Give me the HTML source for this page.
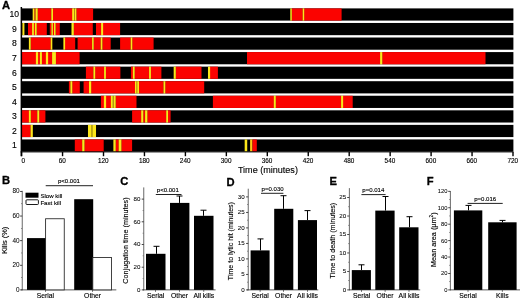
<!DOCTYPE html>
<html><head><meta charset="utf-8"><title>Figure</title>
<style>html,body{margin:0;padding:0;background:#fff;overflow:hidden}svg{display:block}text{stroke:#000;stroke-width:0.13px}text[font-weight]{stroke-width:0.3px}</style></head>
<body>
<svg width="520" height="300" viewBox="0 0 520 300" font-family="'Liberation Sans', Arial, sans-serif" fill="#000">
<rect width="520" height="300" fill="#fff"/>
<rect x="22" y="8.40" width="491.4" height="12.2" fill="#000"/>
<rect x="34.30" y="8.40" width="1.30" height="12.2" fill="#fb0300"/>
<rect x="37.60" y="8.40" width="13.80" height="12.2" fill="#fb0300"/>
<rect x="52.90" y="8.40" width="19.90" height="12.2" fill="#fb0300"/>
<rect x="74.00" y="8.40" width="1.00" height="12.2" fill="#a07010"/>
<rect x="76.30" y="8.40" width="16.80" height="12.2" fill="#fb0300"/>
<rect x="291.70" y="8.40" width="11.10" height="12.2" fill="#fb0300"/>
<rect x="304.10" y="8.40" width="37.50" height="12.2" fill="#fb0300"/>
<rect x="32.68" y="8.40" width="1.74" height="12.2" fill="#fce61a"/>
<rect x="35.48" y="8.40" width="2.24" height="12.2" fill="#fce61a"/>
<rect x="51.28" y="8.40" width="1.74" height="12.2" fill="#fce61a"/>
<rect x="72.18" y="8.40" width="1.94" height="12.2" fill="#fce61a"/>
<rect x="74.88" y="8.40" width="1.54" height="12.2" fill="#fce61a"/>
<rect x="290.28" y="8.40" width="1.54" height="12.2" fill="#fce61a"/>
<rect x="302.68" y="8.40" width="1.54" height="12.2" fill="#fce61a"/>
<text x="14.3" y="17.30" font-size="8.6" text-anchor="middle">10</text>
<rect x="22" y="22.96" width="491.4" height="12.2" fill="#000"/>
<rect x="28.00" y="22.96" width="4.20" height="12.2" fill="#fb0300"/>
<rect x="33.80" y="22.96" width="1.20" height="12.2" fill="#fb0300"/>
<rect x="36.60" y="22.96" width="10.20" height="12.2" fill="#fb0300"/>
<rect x="49.80" y="22.96" width="1.70" height="12.2" fill="#fb0300"/>
<rect x="52.80" y="22.96" width="1.30" height="12.2" fill="#fb0300"/>
<rect x="55.50" y="22.96" width="4.30" height="12.2" fill="#fb0300"/>
<rect x="73.70" y="22.96" width="19.10" height="12.2" fill="#fb0300"/>
<rect x="96.00" y="22.96" width="5.20" height="12.2" fill="#fb0300"/>
<rect x="103.00" y="22.96" width="17.10" height="12.2" fill="#fb0300"/>
<rect x="22.38" y="22.96" width="2.04" height="12.2" fill="#fce61a"/>
<rect x="32.08" y="22.96" width="1.84" height="12.2" fill="#fce61a"/>
<rect x="34.88" y="22.96" width="1.84" height="12.2" fill="#fce61a"/>
<rect x="51.38" y="22.96" width="1.54" height="12.2" fill="#fce61a"/>
<rect x="53.98" y="22.96" width="1.64" height="12.2" fill="#fce61a"/>
<rect x="71.48" y="22.96" width="2.34" height="12.2" fill="#fce61a"/>
<rect x="101.08" y="22.96" width="2.04" height="12.2" fill="#fce61a"/>
<text x="14.3" y="31.86" font-size="8.6" text-anchor="middle">9</text>
<rect x="22" y="37.52" width="491.4" height="12.2" fill="#000"/>
<rect x="30.60" y="37.52" width="20.20" height="12.2" fill="#fb0300"/>
<rect x="65.00" y="37.52" width="10.20" height="12.2" fill="#fb0300"/>
<rect x="77.60" y="37.52" width="14.60" height="12.2" fill="#fb0300"/>
<rect x="93.60" y="37.52" width="7.20" height="12.2" fill="#fb0300"/>
<rect x="102.30" y="37.52" width="8.40" height="12.2" fill="#fb0300"/>
<rect x="120.10" y="37.52" width="10.70" height="12.2" fill="#fb0300"/>
<rect x="132.20" y="37.52" width="21.40" height="12.2" fill="#fb0300"/>
<rect x="28.88" y="37.52" width="1.84" height="12.2" fill="#fce61a"/>
<rect x="50.68" y="37.52" width="1.64" height="12.2" fill="#fce61a"/>
<rect x="63.38" y="37.52" width="1.74" height="12.2" fill="#fce61a"/>
<rect x="92.08" y="37.52" width="1.64" height="12.2" fill="#fce61a"/>
<rect x="100.68" y="37.52" width="1.74" height="12.2" fill="#fce61a"/>
<rect x="130.68" y="37.52" width="1.64" height="12.2" fill="#fce61a"/>
<text x="14.3" y="46.42" font-size="8.6" text-anchor="middle">8</text>
<rect x="22" y="52.08" width="491.4" height="12.2" fill="#000"/>
<rect x="22.00" y="52.08" width="14.00" height="12.2" fill="#fb0300"/>
<rect x="38.00" y="52.08" width="2.00" height="12.2" fill="#fb0300"/>
<rect x="41.80" y="52.08" width="4.20" height="12.2" fill="#fb0300"/>
<rect x="48.00" y="52.08" width="4.20" height="12.2" fill="#fb0300"/>
<rect x="55.80" y="52.08" width="23.80" height="12.2" fill="#fb0300"/>
<rect x="247.00" y="52.08" width="133.20" height="12.2" fill="#fb0300"/>
<rect x="382.20" y="52.08" width="103.30" height="12.2" fill="#fb0300"/>
<rect x="35.88" y="52.08" width="2.24" height="12.2" fill="#fce61a"/>
<rect x="39.88" y="52.08" width="2.04" height="12.2" fill="#fce61a"/>
<rect x="45.88" y="52.08" width="2.24" height="12.2" fill="#fce61a"/>
<rect x="52.08" y="52.08" width="3.84" height="12.2" fill="#fce61a"/>
<rect x="380.08" y="52.08" width="2.24" height="12.2" fill="#fce61a"/>
<text x="14.3" y="60.98" font-size="8.6" text-anchor="middle">7</text>
<rect x="22" y="66.64" width="491.4" height="12.2" fill="#000"/>
<rect x="85.90" y="66.64" width="7.60" height="12.2" fill="#fb0300"/>
<rect x="95.10" y="66.64" width="9.10" height="12.2" fill="#fb0300"/>
<rect x="105.80" y="66.64" width="14.60" height="12.2" fill="#fb0300"/>
<rect x="130.90" y="66.64" width="2.10" height="12.2" fill="#fb0300"/>
<rect x="134.60" y="66.64" width="14.60" height="12.2" fill="#fb0300"/>
<rect x="150.80" y="66.64" width="10.60" height="12.2" fill="#fb0300"/>
<rect x="175.70" y="66.64" width="25.80" height="12.2" fill="#fb0300"/>
<rect x="210.00" y="66.64" width="7.90" height="12.2" fill="#fb0300"/>
<rect x="93.38" y="66.64" width="1.84" height="12.2" fill="#fce61a"/>
<rect x="104.08" y="66.64" width="1.84" height="12.2" fill="#fce61a"/>
<rect x="132.88" y="66.64" width="1.84" height="12.2" fill="#fce61a"/>
<rect x="149.08" y="66.64" width="1.84" height="12.2" fill="#fce61a"/>
<rect x="173.68" y="66.64" width="2.14" height="12.2" fill="#fce61a"/>
<rect x="207.98" y="66.64" width="2.14" height="12.2" fill="#fce61a"/>
<text x="14.3" y="75.54" font-size="8.6" text-anchor="middle">6</text>
<rect x="22" y="81.20" width="491.4" height="12.2" fill="#000"/>
<rect x="68.90" y="81.20" width="1.60" height="12.2" fill="#fb0300"/>
<rect x="72.20" y="81.20" width="7.60" height="12.2" fill="#fb0300"/>
<rect x="83.60" y="81.20" width="5.50" height="12.2" fill="#fb0300"/>
<rect x="91.10" y="81.20" width="44.00" height="12.2" fill="#fb0300"/>
<rect x="136.50" y="81.20" width="0.80" height="12.2" fill="#ff6a00"/>
<rect x="138.90" y="81.20" width="24.70" height="12.2" fill="#fb0300"/>
<rect x="165.20" y="81.20" width="39.00" height="12.2" fill="#fb0300"/>
<rect x="70.38" y="81.20" width="1.94" height="12.2" fill="#fce61a"/>
<rect x="88.98" y="81.20" width="2.24" height="12.2" fill="#fce61a"/>
<rect x="134.98" y="81.20" width="1.64" height="12.2" fill="#fce61a"/>
<rect x="137.18" y="81.20" width="1.84" height="12.2" fill="#fce61a"/>
<rect x="163.48" y="81.20" width="1.84" height="12.2" fill="#fce61a"/>
<text x="14.3" y="90.10" font-size="8.6" text-anchor="middle">5</text>
<rect x="22" y="95.76" width="491.4" height="12.2" fill="#000"/>
<rect x="100.90" y="95.76" width="3.10" height="12.2" fill="#fb0300"/>
<rect x="106.00" y="95.76" width="5.00" height="12.2" fill="#fb0300"/>
<rect x="112.70" y="95.76" width="0.90" height="12.2" fill="#a07010"/>
<rect x="115.60" y="95.76" width="20.90" height="12.2" fill="#fb0300"/>
<rect x="212.90" y="95.76" width="61.00" height="12.2" fill="#fb0300"/>
<rect x="275.70" y="95.76" width="65.50" height="12.2" fill="#fb0300"/>
<rect x="343.00" y="95.76" width="9.70" height="12.2" fill="#fb0300"/>
<rect x="103.88" y="95.76" width="2.24" height="12.2" fill="#fce61a"/>
<rect x="110.88" y="95.76" width="1.94" height="12.2" fill="#fce61a"/>
<rect x="113.48" y="95.76" width="2.24" height="12.2" fill="#fce61a"/>
<rect x="273.78" y="95.76" width="2.04" height="12.2" fill="#fce61a"/>
<rect x="341.08" y="95.76" width="2.04" height="12.2" fill="#fce61a"/>
<text x="14.3" y="104.66" font-size="8.6" text-anchor="middle">4</text>
<rect x="22" y="110.32" width="491.4" height="12.2" fill="#000"/>
<rect x="22.00" y="110.32" width="7.00" height="12.2" fill="#fb0300"/>
<rect x="30.70" y="110.32" width="6.70" height="12.2" fill="#fb0300"/>
<rect x="39.10" y="110.32" width="6.30" height="12.2" fill="#fb0300"/>
<rect x="132.10" y="110.32" width="9.40" height="12.2" fill="#fb0300"/>
<rect x="143.20" y="110.32" width="2.00" height="12.2" fill="#fb0300"/>
<rect x="147.30" y="110.32" width="19.00" height="12.2" fill="#fb0300"/>
<rect x="167.90" y="110.32" width="2.70" height="12.2" fill="#fb0300"/>
<rect x="28.88" y="110.32" width="1.94" height="12.2" fill="#fce61a"/>
<rect x="37.28" y="110.32" width="1.94" height="12.2" fill="#fce61a"/>
<rect x="141.18" y="110.32" width="2.14" height="12.2" fill="#fce61a"/>
<rect x="145.08" y="110.32" width="2.34" height="12.2" fill="#fce61a"/>
<rect x="166.18" y="110.32" width="1.84" height="12.2" fill="#fce61a"/>
<text x="14.3" y="119.22" font-size="8.6" text-anchor="middle">3</text>
<rect x="22" y="124.88" width="491.4" height="12.2" fill="#000"/>
<rect x="22.00" y="124.88" width="8.70" height="12.2" fill="#fb0300"/>
<rect x="91.40" y="124.88" width="1.10" height="12.2" fill="#c09a10"/>
<rect x="30.58" y="124.88" width="2.24" height="12.2" fill="#fce61a"/>
<rect x="87.98" y="124.88" width="3.54" height="12.2" fill="#fce61a"/>
<rect x="92.38" y="124.88" width="3.64" height="12.2" fill="#fce61a"/>
<text x="14.3" y="133.78" font-size="8.6" text-anchor="middle">2</text>
<rect x="22" y="139.44" width="491.4" height="12.2" fill="#000"/>
<rect x="74.80" y="139.44" width="7.50" height="12.2" fill="#fb0300"/>
<rect x="84.40" y="139.44" width="19.30" height="12.2" fill="#fb0300"/>
<rect x="115.60" y="139.44" width="3.20" height="12.2" fill="#fb0300"/>
<rect x="121.30" y="139.44" width="10.80" height="12.2" fill="#fb0300"/>
<rect x="250.10" y="139.44" width="2.40" height="12.2" fill="#ffc814"/>
<rect x="252.50" y="139.44" width="4.30" height="12.2" fill="#fb0300"/>
<rect x="82.18" y="139.44" width="2.34" height="12.2" fill="#fce61a"/>
<rect x="113.38" y="139.44" width="2.34" height="12.2" fill="#fce61a"/>
<rect x="118.68" y="139.44" width="2.74" height="12.2" fill="#fce61a"/>
<rect x="244.68" y="139.44" width="2.54" height="12.2" fill="#fce61a"/>
<text x="14.3" y="148.34" font-size="8.6" text-anchor="middle">1</text>
<rect x="20.6" y="7" width="1.5" height="149.2"/>
<rect x="20.6" y="151.4" width="492.79999999999995" height="1"/>
<rect x="20.90" y="152" width="1.4" height="4.2"/>
<text x="23.20" y="163.4" font-size="6.4" text-anchor="middle">0</text>
<rect x="61.85" y="152" width="1.4" height="4.2"/>
<text x="62.35" y="163.4" font-size="6.4" text-anchor="middle">60</text>
<rect x="102.80" y="152" width="1.4" height="4.2"/>
<text x="103.30" y="163.4" font-size="6.4" text-anchor="middle">120</text>
<rect x="143.75" y="152" width="1.4" height="4.2"/>
<text x="144.25" y="163.4" font-size="6.4" text-anchor="middle">180</text>
<rect x="184.70" y="152" width="1.4" height="4.2"/>
<text x="185.20" y="163.4" font-size="6.4" text-anchor="middle">240</text>
<rect x="225.65" y="152" width="1.4" height="4.2"/>
<text x="226.15" y="163.4" font-size="6.4" text-anchor="middle">300</text>
<rect x="266.60" y="152" width="1.4" height="4.2"/>
<text x="267.10" y="163.4" font-size="6.4" text-anchor="middle">360</text>
<rect x="307.55" y="152" width="1.4" height="4.2"/>
<text x="308.05" y="163.4" font-size="6.4" text-anchor="middle">420</text>
<rect x="348.50" y="152" width="1.4" height="4.2"/>
<text x="349.00" y="163.4" font-size="6.4" text-anchor="middle">480</text>
<rect x="389.45" y="152" width="1.4" height="4.2"/>
<text x="389.95" y="163.4" font-size="6.4" text-anchor="middle">540</text>
<rect x="430.40" y="152" width="1.4" height="4.2"/>
<text x="430.90" y="163.4" font-size="6.4" text-anchor="middle">600</text>
<rect x="471.35" y="152" width="1.4" height="4.2"/>
<text x="471.85" y="163.4" font-size="6.4" text-anchor="middle">660</text>
<rect x="512.30" y="152" width="1.4" height="4.2"/>
<text x="512.80" y="163.4" font-size="6.4" text-anchor="middle">720</text>
<text x="267.9" y="173.25" font-size="9.05" text-anchor="middle">Time (minutes)</text>
<text x="2.1" y="8.6" font-size="11.2" font-weight="bold" stroke-width="0.3">A</text>
<text x="2.0" y="184.2" font-size="11.2" font-weight="bold" stroke-width="0.3">B</text>
<text x="120.2" y="185.1" font-size="11.2" font-weight="bold" stroke-width="0.3">C</text>
<text x="226.4" y="186.3" font-size="11.2" font-weight="bold" stroke-width="0.3">D</text>
<text x="329.5" y="185.3" font-size="11.2" font-weight="bold" stroke-width="0.3">E</text>
<text x="426.8" y="185.2" font-size="11.2" font-weight="bold" stroke-width="0.3">F</text>
<rect x="21.80" y="190.80" width="0.8" height="99.50" fill="#444"/>
<rect x="20.10" y="289.45" width="2.1" height="0.9" fill="#333"/>
<rect x="21.00" y="277.24" width="1.2" height="0.7" fill="#666"/>
<text x="19.50" y="291.80" font-size="6.4" text-anchor="end" style="stroke-width:0.05px">0</text>
<rect x="20.10" y="264.83" width="2.1" height="0.9" fill="#333"/>
<rect x="21.00" y="252.62" width="1.2" height="0.7" fill="#666"/>
<text x="19.50" y="267.18" font-size="6.4" text-anchor="end" style="stroke-width:0.05px">20</text>
<rect x="20.10" y="240.21" width="2.1" height="0.9" fill="#333"/>
<rect x="21.00" y="228.00" width="1.2" height="0.7" fill="#666"/>
<text x="19.50" y="242.56" font-size="6.4" text-anchor="end" style="stroke-width:0.05px">40</text>
<rect x="20.10" y="215.59" width="2.1" height="0.9" fill="#333"/>
<rect x="21.00" y="203.38" width="1.2" height="0.7" fill="#666"/>
<text x="19.50" y="217.94" font-size="6.4" text-anchor="end" style="stroke-width:0.05px">60</text>
<rect x="20.10" y="190.97" width="2.1" height="0.9" fill="#333"/>
<text x="19.50" y="193.32" font-size="6.4" text-anchor="end" style="stroke-width:0.05px">80</text>
<text transform="translate(6.7,240.3) rotate(-90)" font-size="7.4" text-anchor="middle">Kills (%)</text>
<rect x="21.20" y="289.50" width="95.10" height="0.8" fill="#333"/>
<rect x="27.00" y="238.10" width="19.00" height="51.80"/>
<rect x="45.60" y="218.75" width="18.65" height="71.15" fill="#fff" stroke="#222" stroke-width="0.85"/>
<rect x="74.20" y="199.20" width="19.00" height="90.70"/>
<rect x="92.80" y="257.45" width="18.75" height="32.45" fill="#fff" stroke="#222" stroke-width="0.85"/>
<rect x="45.00" y="289.90" width="0.8" height="1.9" fill="#444"/>
<text x="45.40" y="298.1" font-size="6.8" text-anchor="middle">Serial</text>
<rect x="92.20" y="289.90" width="0.8" height="1.9" fill="#444"/>
<text x="92.60" y="298.1" font-size="6.8" text-anchor="middle">Other</text>
<text x="68.90" y="183.30" font-size="6.05" text-anchor="middle">p&lt;0.001</text>
<rect x="45.70" y="185.20" width="47.30" height="1" fill="#222"/>
<rect x="25.5" y="192.7" width="13" height="5"/>
<rect x="26.0" y="199.8" width="12.4" height="4.7" rx="0.8" fill="#fff" stroke="#000" stroke-width="0.9"/>
<text x="40.4" y="197.8" font-size="6.1">Slow kill</text>
<text x="40.4" y="204.7" font-size="6.1">Fast kill</text>
<rect x="143.40" y="187.40" width="0.8" height="102.90" fill="#444"/>
<rect x="141.70" y="289.45" width="2.1" height="0.9" fill="#333"/>
<rect x="142.60" y="278.20" width="1.2" height="0.7" fill="#666"/>
<text x="140.50" y="291.80" font-size="6.2" text-anchor="end" style="stroke-width:0.05px">0</text>
<rect x="141.70" y="266.75" width="2.1" height="0.9" fill="#333"/>
<rect x="142.60" y="255.50" width="1.2" height="0.7" fill="#666"/>
<text x="140.50" y="269.10" font-size="6.2" text-anchor="end" style="stroke-width:0.05px">20</text>
<rect x="141.70" y="244.05" width="2.1" height="0.9" fill="#333"/>
<rect x="142.60" y="232.80" width="1.2" height="0.7" fill="#666"/>
<text x="140.50" y="246.40" font-size="6.2" text-anchor="end" style="stroke-width:0.05px">40</text>
<rect x="141.70" y="221.35" width="2.1" height="0.9" fill="#333"/>
<rect x="142.60" y="210.10" width="1.2" height="0.7" fill="#666"/>
<text x="140.50" y="223.70" font-size="6.2" text-anchor="end" style="stroke-width:0.05px">60</text>
<rect x="141.70" y="198.65" width="2.1" height="0.9" fill="#333"/>
<text x="140.50" y="201.00" font-size="6.2" text-anchor="end" style="stroke-width:0.05px">80</text>
<text transform="translate(128.3,240.5) rotate(-90)" font-size="7.23" text-anchor="middle">Conjugation time (minutes)</text>
<rect x="142.90" y="289.50" width="72.70" height="0.8" fill="#333"/>
<rect x="156.00" y="246.30" width="1" height="7.50"/>
<rect x="153.50" y="245.80" width="6" height="1"/>
<rect x="146.00" y="253.80" width="19.50" height="36.10"/>
<rect x="179.00" y="196.00" width="1" height="6.90"/>
<rect x="176.50" y="195.50" width="6" height="1"/>
<rect x="170.00" y="202.90" width="19.40" height="87.00"/>
<rect x="203.00" y="210.20" width="1" height="5.60"/>
<rect x="200.50" y="209.70" width="6" height="1"/>
<rect x="194.00" y="215.80" width="19.50" height="74.10"/>
<rect x="155.20" y="289.90" width="0.8" height="1.9" fill="#444"/>
<text x="155.60" y="298.1" font-size="6.8" text-anchor="middle">Serial</text>
<rect x="179.10" y="289.90" width="0.8" height="1.9" fill="#444"/>
<text x="179.50" y="298.1" font-size="6.8" text-anchor="middle">Other</text>
<rect x="203.40" y="289.90" width="0.8" height="1.9" fill="#444"/>
<text x="203.80" y="298.1" font-size="6.8" text-anchor="middle">All kills</text>
<text x="167.80" y="192.30" font-size="6.05" text-anchor="middle">p&lt;0.001</text>
<rect x="155.80" y="194.00" width="25.70" height="1" fill="#222"/>
<rect x="247.80" y="188.70" width="0.8" height="101.60" fill="#444"/>
<rect x="246.10" y="289.45" width="2.1" height="0.9" fill="#333"/>
<rect x="247.00" y="281.80" width="1.2" height="0.7" fill="#666"/>
<text x="244.70" y="291.80" font-size="6.2" text-anchor="end" style="stroke-width:0.05px">0</text>
<rect x="246.10" y="273.95" width="2.1" height="0.9" fill="#333"/>
<rect x="247.00" y="266.30" width="1.2" height="0.7" fill="#666"/>
<text x="244.70" y="276.30" font-size="6.2" text-anchor="end" style="stroke-width:0.05px">5</text>
<rect x="246.10" y="258.45" width="2.1" height="0.9" fill="#333"/>
<rect x="247.00" y="250.80" width="1.2" height="0.7" fill="#666"/>
<text x="244.70" y="260.80" font-size="6.2" text-anchor="end" style="stroke-width:0.05px">10</text>
<rect x="246.10" y="242.95" width="2.1" height="0.9" fill="#333"/>
<rect x="247.00" y="235.30" width="1.2" height="0.7" fill="#666"/>
<text x="244.70" y="245.30" font-size="6.2" text-anchor="end" style="stroke-width:0.05px">15</text>
<rect x="246.10" y="227.45" width="2.1" height="0.9" fill="#333"/>
<rect x="247.00" y="219.80" width="1.2" height="0.7" fill="#666"/>
<text x="244.70" y="229.80" font-size="6.2" text-anchor="end" style="stroke-width:0.05px">20</text>
<rect x="246.10" y="211.95" width="2.1" height="0.9" fill="#333"/>
<rect x="247.00" y="204.30" width="1.2" height="0.7" fill="#666"/>
<text x="244.70" y="214.30" font-size="6.2" text-anchor="end" style="stroke-width:0.05px">25</text>
<rect x="246.10" y="196.45" width="2.1" height="0.9" fill="#333"/>
<text x="244.70" y="198.80" font-size="6.2" text-anchor="end" style="stroke-width:0.05px">30</text>
<text transform="translate(232.8,241.1) rotate(-90)" font-size="7.05" text-anchor="middle">Time to lytic hit (minutes)</text>
<rect x="247.10" y="289.50" width="71.20" height="0.8" fill="#333"/>
<rect x="260.00" y="238.90" width="1" height="11.50"/>
<rect x="257.50" y="238.40" width="6" height="1"/>
<rect x="250.60" y="250.40" width="19.00" height="39.50"/>
<rect x="283.00" y="195.70" width="1" height="13.10"/>
<rect x="280.50" y="195.20" width="6" height="1"/>
<rect x="274.20" y="208.80" width="19.10" height="81.10"/>
<rect x="307.00" y="210.60" width="1" height="9.50"/>
<rect x="304.50" y="210.10" width="6" height="1"/>
<rect x="297.90" y="220.10" width="19.10" height="69.80"/>
<rect x="259.70" y="289.90" width="0.8" height="1.9" fill="#444"/>
<text x="260.10" y="298.1" font-size="6.8" text-anchor="middle">Serial</text>
<rect x="283.20" y="289.90" width="0.8" height="1.9" fill="#444"/>
<text x="283.60" y="298.1" font-size="6.8" text-anchor="middle">Other</text>
<rect x="307.10" y="289.90" width="0.8" height="1.9" fill="#444"/>
<text x="307.50" y="298.1" font-size="6.8" text-anchor="middle">All kills</text>
<text x="272.60" y="191.40" font-size="6.05" text-anchor="middle">p=0.030</text>
<rect x="261.00" y="192.80" width="22.40" height="1" fill="#222"/>
<rect x="348.90" y="188.10" width="0.8" height="102.20" fill="#444"/>
<rect x="347.20" y="289.45" width="2.1" height="0.9" fill="#333"/>
<rect x="348.10" y="280.31" width="1.2" height="0.7" fill="#666"/>
<text x="346.10" y="291.80" font-size="6.2" text-anchor="end" style="stroke-width:0.05px">0</text>
<rect x="347.20" y="270.98" width="2.1" height="0.9" fill="#333"/>
<rect x="348.10" y="261.84" width="1.2" height="0.7" fill="#666"/>
<text x="346.10" y="273.33" font-size="6.2" text-anchor="end" style="stroke-width:0.05px">5</text>
<rect x="347.20" y="252.51" width="2.1" height="0.9" fill="#333"/>
<rect x="348.10" y="243.37" width="1.2" height="0.7" fill="#666"/>
<text x="346.10" y="254.86" font-size="6.2" text-anchor="end" style="stroke-width:0.05px">10</text>
<rect x="347.20" y="234.04" width="2.1" height="0.9" fill="#333"/>
<rect x="348.10" y="224.91" width="1.2" height="0.7" fill="#666"/>
<text x="346.10" y="236.39" font-size="6.2" text-anchor="end" style="stroke-width:0.05px">15</text>
<rect x="347.20" y="215.57" width="2.1" height="0.9" fill="#333"/>
<rect x="348.10" y="206.43" width="1.2" height="0.7" fill="#666"/>
<text x="346.10" y="217.92" font-size="6.2" text-anchor="end" style="stroke-width:0.05px">20</text>
<rect x="347.20" y="197.10" width="2.1" height="0.9" fill="#333"/>
<text x="346.10" y="199.45" font-size="6.2" text-anchor="end" style="stroke-width:0.05px">25</text>
<text transform="translate(335.1,240.7) rotate(-90)" font-size="7.2" text-anchor="middle">Time to death (minutes)</text>
<rect x="349.00" y="289.50" width="71.20" height="0.8" fill="#333"/>
<rect x="361.00" y="264.80" width="1" height="5.30"/>
<rect x="358.50" y="264.30" width="6" height="1"/>
<rect x="351.80" y="270.10" width="19.10" height="19.80"/>
<rect x="385.00" y="196.50" width="1" height="14.10"/>
<rect x="382.50" y="196.00" width="6" height="1"/>
<rect x="375.30" y="210.60" width="19.30" height="79.30"/>
<rect x="409.00" y="216.70" width="1" height="10.60"/>
<rect x="406.50" y="216.20" width="6" height="1"/>
<rect x="399.20" y="227.30" width="19.30" height="62.60"/>
<rect x="361.20" y="289.90" width="0.8" height="1.9" fill="#444"/>
<text x="361.60" y="298.1" font-size="6.8" text-anchor="middle">Serial</text>
<rect x="384.70" y="289.90" width="0.8" height="1.9" fill="#444"/>
<text x="385.10" y="298.1" font-size="6.8" text-anchor="middle">Other</text>
<rect x="408.60" y="289.90" width="0.8" height="1.9" fill="#444"/>
<text x="409.00" y="298.1" font-size="6.8" text-anchor="middle">All kills</text>
<text x="373.30" y="192.20" font-size="6.05" text-anchor="middle">p=0.014</text>
<rect x="361.40" y="194.10" width="24.20" height="1" fill="#222"/>
<rect x="449.90" y="191.00" width="0.8" height="99.30" fill="#444"/>
<rect x="448.20" y="289.45" width="2.1" height="0.9" fill="#333"/>
<rect x="449.10" y="281.33" width="1.2" height="0.7" fill="#666"/>
<text x="447.40" y="291.80" font-size="5.8" text-anchor="end" style="stroke-width:0.05px">0</text>
<rect x="448.20" y="273.02" width="2.1" height="0.9" fill="#333"/>
<rect x="449.10" y="264.90" width="1.2" height="0.7" fill="#666"/>
<text x="447.40" y="275.37" font-size="5.8" text-anchor="end" style="stroke-width:0.05px">20</text>
<rect x="448.20" y="256.59" width="2.1" height="0.9" fill="#333"/>
<rect x="449.10" y="248.47" width="1.2" height="0.7" fill="#666"/>
<text x="447.40" y="258.94" font-size="5.8" text-anchor="end" style="stroke-width:0.05px">40</text>
<rect x="448.20" y="240.16" width="2.1" height="0.9" fill="#333"/>
<rect x="449.10" y="232.04" width="1.2" height="0.7" fill="#666"/>
<text x="447.40" y="242.51" font-size="5.8" text-anchor="end" style="stroke-width:0.05px">60</text>
<rect x="448.20" y="223.73" width="2.1" height="0.9" fill="#333"/>
<rect x="449.10" y="215.61" width="1.2" height="0.7" fill="#666"/>
<text x="447.40" y="226.08" font-size="5.8" text-anchor="end" style="stroke-width:0.05px">80</text>
<rect x="448.20" y="207.30" width="2.1" height="0.9" fill="#333"/>
<rect x="449.10" y="199.18" width="1.2" height="0.7" fill="#666"/>
<text x="447.40" y="209.65" font-size="5.8" text-anchor="end" style="stroke-width:0.05px">100</text>
<rect x="448.20" y="190.87" width="2.1" height="0.9" fill="#333"/>
<text x="447.40" y="193.22" font-size="5.8" text-anchor="end" style="stroke-width:0.05px">120</text>
<text transform="translate(435.8,239.7) rotate(-90)" font-size="7.3" text-anchor="middle">Mean area (µm<tspan font-size="4.6" dy="-2.6">2</tspan><tspan dy="2.6">)</tspan></text>
<rect x="450.00" y="289.50" width="70.00" height="0.8" fill="#333"/>
<rect x="468.00" y="205.40" width="1" height="5.00"/>
<rect x="465.50" y="204.90" width="6" height="1"/>
<rect x="453.90" y="210.40" width="28.40" height="79.50"/>
<rect x="502.00" y="220.40" width="1" height="1.90"/>
<rect x="499.50" y="219.90" width="6" height="1"/>
<rect x="488.20" y="222.30" width="28.40" height="67.60"/>
<rect x="467.60" y="289.90" width="0.8" height="1.9" fill="#444"/>
<text x="468.00" y="298.1" font-size="6.8" text-anchor="middle">Serial</text>
<rect x="501.90" y="289.90" width="0.8" height="1.9" fill="#444"/>
<text x="502.30" y="298.1" font-size="6.8" text-anchor="middle">Kills</text>
<text x="485.20" y="200.90" font-size="6.05" text-anchor="middle">p=0.016</text>
<rect x="467.60" y="202.90" width="35.10" height="1" fill="#222"/>
</svg>
</body></html>
